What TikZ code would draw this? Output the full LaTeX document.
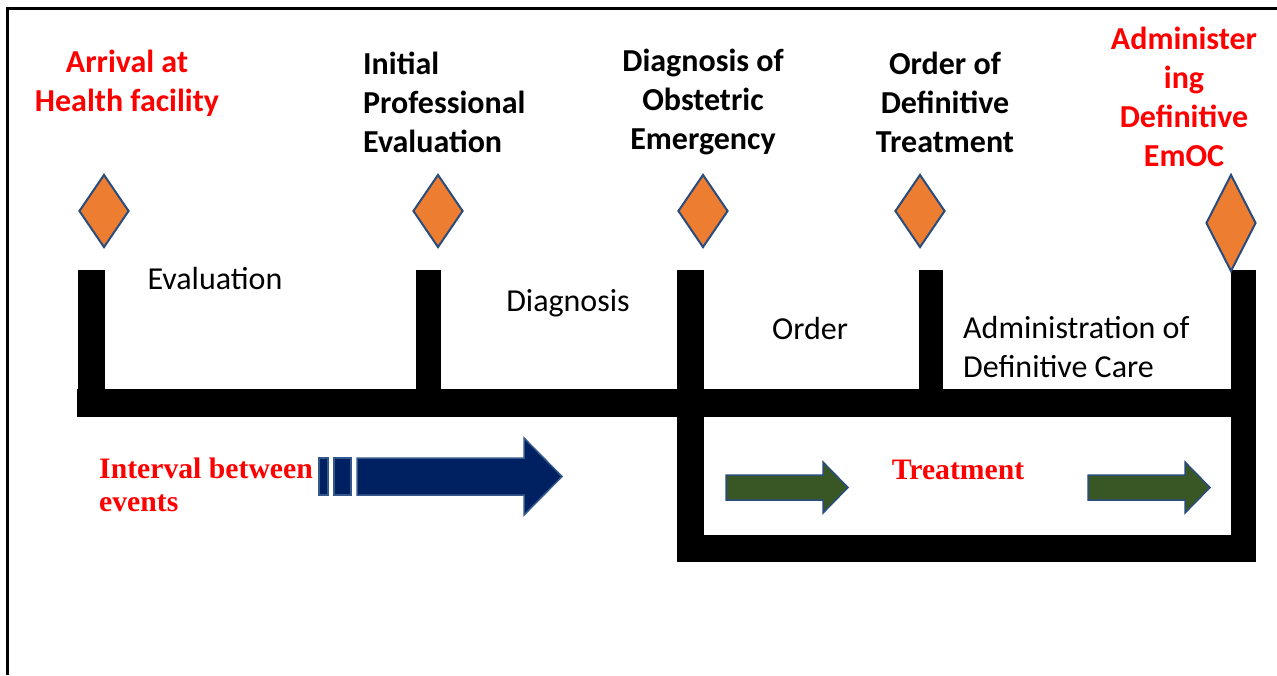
\documentclass[tikz,border=0pt]{standalone}
\usepackage{fontspec}
\setmainfont{Carlito}
\newfontfamily\timesfont{Liberation Serif}
\usetikzlibrary{positioning,shapes.geometric}
\definecolor{evclr}{rgb}{0.93, 0.49, 0.19}
\definecolor{edgeclr}{rgb}{0.16, 0.30, 0.49}
\definecolor{navyclr}{rgb}{0.0, 0.13, 0.38}
\definecolor{navyedge}{rgb}{0.20, 0.35, 0.55}
\definecolor{greenclr}{rgb}{0.22, 0.34, 0.14}
\definecolor{noteclr}{rgb}{1, 0, 0}
\tikzset{ %
  ,event/.style={draw=edgeclr, line width=2pt, diamond, inner sep=0, minimum width=50pt, minimum height=73pt, fill=evclr}
  ,title/.style={font=\fontsize{32}{39}\selectfont\bfseries, align=center, inner sep=0}
  ,phase/.style={font=\fontsize{32}{39}\selectfont, align=left, inner sep=0}
  ,note/.style={font=\timesfont\fontsize{29.7}{33}\selectfont\bfseries, text=noteclr, align=left, inner sep=0}
  ,bar/.style={fill=black}
  ,fwd/.style={draw=edgeclr, line width=1.5pt, fill=greenclr}
  ,lead/.style={draw=navyedge, line width=1.5pt, fill=navyclr}
}

\begin{document}
\begin{tikzpicture}[x=1pt, y=-1pt]
    \useasboundingbox (0,0) rectangle (1277,675);
    % frame
    \draw[line width=3pt] (7,675) -- (7,8) -- (1277,8);
    % time line
    \fill[bar] (77,389) rectangle (1256,417);
    \foreach \xa/\xb in {78/105, 416/441, 919/943}
        \fill[bar] (\xa,270) rectangle (\xb,389);
    \fill[bar] (677,270) rectangle (704,562);
    \fill[bar] (1231,270) rectangle (1256,562);
    \fill[bar] (677,535) rectangle (1256,562);
    % events
    \draw
    node[event] (ev1) at (104,211) {}
    node[event] (ev2) at (438,211) {}
    node[event] (ev3) at (703,211) {}
    node[event] (ev4) at (920,211) {}
    node[event, minimum height=97pt] (ev5) at (1231,223) {};
    \node[title, text=noteclr] (arrive) at (127,83) {Arrival at\\Health facility};
    \node[title, align=left, anchor=west] (initial) at (363,102) {Initial\\Professional\\Evaluation};
    \node[title] (diag) at (703,102) {Diagnosis of\\Obstetric\\Emergency};
    \node[title] (order) at (945,102) {Order of\\Definitive\\Treatment};
    \node[title, text=noteclr] (admin) at (1184,97) {Administer\\ing\\Definitive\\EmOC};
    % intervals
    \node[phase] (evaltxt) at (215,279) {Evaluation};
    \node[phase] (diagtxt) at (568,303) {Diagnosis};
    \node[phase] (ordertxt) at (810,328) {Order};
    \node[phase, anchor=west] (caretxt) at (963,347) {Administration of\\Definitive Care};
    % legend and treatment
    \node[note, anchor=west] (interval) at (99,485) {Interval between\\events};
    \node[note] (treat) at (958,470) {Treatment};
    \draw[lead] (319,458) rectangle (328,495);
    \draw[lead] (334,458) rectangle (351,495);
    \draw[lead] (357,458) -- (524,458) -- (524,438) -- (562,476.5) -- (524,515) -- (524,495) -- (357,495) -- cycle;
    \draw[fwd] (726,475) -- (823,475) -- (823,462) -- (848,487.5) -- (823,513) -- (823,500) -- (726,500) -- cycle;
    \draw[fwd] (1088,475) -- (1185,475) -- (1185,462) -- (1210,487.5) -- (1185,513) -- (1185,500) -- (1088,500) -- cycle;
\end{tikzpicture}
\end{document}
